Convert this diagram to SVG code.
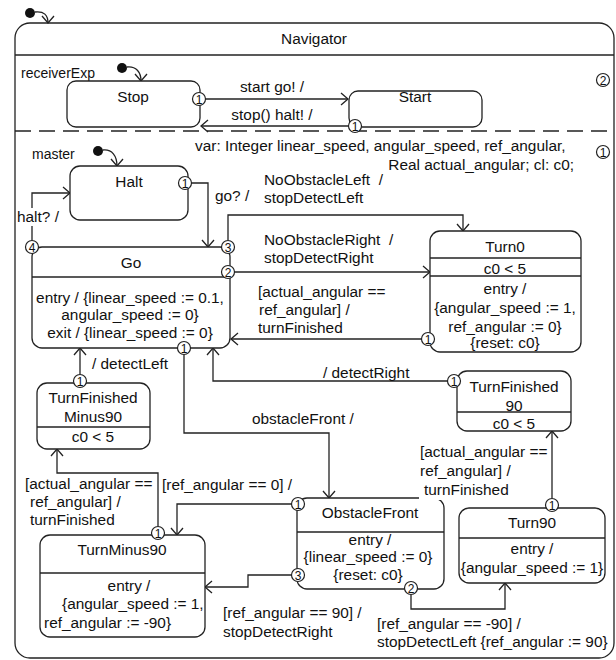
<svg xmlns="http://www.w3.org/2000/svg" width="616" height="660" viewBox="0 0 616 660">
<style>
text{font-family:"Liberation Sans",Arial,sans-serif;font-size:15.4px;fill:#111}
.m{text-anchor:middle}
.sm{font-size:14px}
.box{fill:#fff;stroke:#222;stroke-width:1.3}
.ln{fill:none;stroke:#222;stroke-width:1.3}
.arr{fill:none;stroke:#222;stroke-width:1.3;marker-end:url(#a)}
.p circle{fill:#fff;stroke:#222;stroke-width:1.2}
.p text{font-size:12px;text-anchor:middle}
.bg{fill:#fff}
</style>
<defs>
<marker id="a" markerWidth="10" markerHeight="14" refX="8" refY="7" orient="auto" markerUnits="userSpaceOnUse"><path d="M1,1 L8,7 L1,13" fill="none" stroke="#222" stroke-width="1.3"/></marker>
</defs>
<g id="navigator">
<rect class="box" x="15" y="23" width="599" height="635" rx="15"/>
<line class="ln" x1="15" y1="55" x2="614" y2="55"/>
<line class="ln" x1="15" y1="131" x2="614" y2="131" stroke-dasharray="16 8"/>
<text class="m" x="314" y="44">Navigator</text>
<text class="sm" x="21" y="78">receiverExp</text>
<text class="sm" x="32" y="159">master</text>
<text x="195" y="151">var: Integer linear_speed, angular_speed, ref_angular,</text>
<text x="574" y="170" text-anchor="end">Real actual_angular; cl: c0;</text>
<g class="p"><circle cx="603" cy="80" r="6.5"/><text x="603" y="84.5">2</text></g>
<g class="p"><circle cx="603" cy="152" r="6.5"/><text x="603" y="156.5">1</text></g>
<circle cx="30" cy="13" r="5" fill="#111"/>
<path class="arr" d="M35,12 C44,11 48,15 48,23"/>
<circle cx="122" cy="68" r="5" fill="#111"/>
<path class="arr" d="M127,67 C136,66 141,72 141,81"/>
<circle cx="98" cy="151" r="5" fill="#111"/>
<path class="arr" d="M103,150 C112,149 117,156 117,166"/>
</g>
<g id="connectors">
<path class="arr" d="M205.5,99 H348"/>
<path class="arr" d="M348.5,126 H201"/>
<path class="arr" d="M191.5,183 H208 V247"/>
<path class="arr" d="M32,240.5 V193 H70"/>
<path class="arr" d="M228,240.5 V215 H463 V231"/>
<path class="arr" d="M234.5,272 H430"/>
<path class="arr" d="M421.5,339 H231"/>
<path class="arr" d="M184,354.5 V433 H329 V498"/>
<path class="arr" d="M447.5,381 H213 V348"/>
<path class="arr" d="M80,374.5 V348"/>
<path class="arr" d="M158,526.5 V473 H57 V449"/>
<path class="arr" d="M291.5,504 H177 V535"/>
<path class="arr" d="M291.5,575 H248 V587 H205"/>
<path class="arr" d="M411,594.5 V609 H505 V583"/>
<path class="arr" d="M552,498.5 V431"/>
</g>
<g id="stop">
<rect class="box" x="67" y="81" width="133" height="46" rx="9"/>
<text class="m" x="133" y="102">Stop</text>
<g class="p"><circle cx="199" cy="99" r="6.5"/><text x="199" y="103.5">1</text></g>
</g>
<g id="start">
<rect class="box" x="349" y="91" width="133" height="36" rx="9"/>
<text class="m" x="415" y="102">Start</text>
<g class="p"><circle cx="355" cy="126" r="6.5"/><text x="355" y="130.5">1</text></g>
</g>
<g id="halt">
<rect class="box" x="70" y="166" width="118" height="54" rx="10"/>
<text class="m" x="129" y="187">Halt</text>
<g class="p"><circle cx="185" cy="183" r="6.5"/><text x="185" y="187.5">1</text></g>
</g>
<g id="go">
<rect class="box" x="32" y="247" width="198" height="101" rx="10"/>
<line class="ln" x1="32" y1="277" x2="230" y2="277"/>
<text class="m" x="131" y="268">Go</text>
<text class="m" x="130" y="303">entry / {linear_speed := 0.1,</text>
<text class="m" x="130" y="320">angular_speed := 0}</text>
<text class="m" x="130" y="338">exit / {linear_speed := 0}</text>
<g class="p"><circle cx="32" cy="247" r="6.5"/><text x="32" y="251.5">4</text></g>
<g class="p"><circle cx="228" cy="247" r="6.5"/><text x="228" y="251.5">3</text></g>
<g class="p"><circle cx="228" cy="272" r="6.5"/><text x="228" y="276.5">2</text></g>
<g class="p"><circle cx="184" cy="348" r="6.5"/><text x="184" y="352.5">1</text></g>
</g>
<g id="turn0">
<rect class="box" x="430" y="231" width="151" height="121" rx="10"/>
<line class="ln" x1="430" y1="258" x2="581" y2="258"/>
<line class="ln" x1="430" y1="276" x2="581" y2="276"/>
<text class="m" x="505" y="252">Turn0</text>
<text class="m" x="505" y="274">c0 &lt; 5</text>
<text class="m" x="505" y="294">entry /</text>
<text class="m" x="505" y="313">{angular_speed := 1,</text>
<text class="m" x="505" y="332">ref_angular := 0}</text>
<text class="m" x="505" y="348">{reset: c0}</text>
<g class="p"><circle cx="428" cy="339" r="6.5"/><text x="428" y="343.5">1</text></g>
</g>
<g id="turnFinished90">
<rect class="box" x="457" y="371" width="114" height="60" rx="10"/>
<line class="ln" x1="457" y1="412" x2="571" y2="412"/>
<text class="m" x="514" y="392">TurnFinished</text>
<text class="m" x="514" y="411">90</text>
<text class="m" x="514" y="429">c0 &lt; 5</text>
<g class="p"><circle cx="454" cy="381" r="6.5"/><text x="454" y="385.5">1</text></g>
</g>
<g id="turnFinishedMinus90">
<rect class="box" x="37" y="383" width="113" height="66" rx="10"/>
<line class="ln" x1="37" y1="427" x2="150" y2="427"/>
<text class="m" x="93" y="403">TurnFinished</text>
<text class="m" x="93" y="422">Minus90</text>
<text class="m" x="93" y="442">c0 &lt; 5</text>
<g class="p"><circle cx="80" cy="381" r="6.5"/><text x="80" y="385.5">1</text></g>
</g>
<g id="turnMinus90">
<rect class="box" x="40" y="535" width="165" height="102" rx="10"/>
<line class="ln" x1="40" y1="573" x2="205" y2="573"/>
<text class="m" x="122" y="555">TurnMinus90</text>
<text class="m" x="129" y="591">entry /</text>
<text x="62" y="609">{angular_speed := 1,</text>
<text x="44" y="628">ref_angular := -90}</text>
<g class="p"><circle cx="158" cy="533" r="6.5"/><text x="158" y="537.5">1</text></g>
</g>
<g id="obstacleFront">
<rect class="box" x="297" y="498" width="147" height="91" rx="10"/>
<line class="ln" x1="297" y1="532" x2="444" y2="532"/>
<text class="m" x="370" y="518">ObstacleFront</text>
<text class="m" x="370" y="545">entry /</text>
<text class="m" x="368" y="562">{linear_speed := 0}</text>
<text class="m" x="368" y="580">{reset: c0}</text>
<g class="p"><circle cx="298" cy="504" r="6.5"/><text x="298" y="508.5">1</text></g>
<g class="p"><circle cx="298" cy="575" r="6.5"/><text x="298" y="579.5">3</text></g>
<g class="p"><circle cx="411" cy="588" r="6.5"/><text x="411" y="592.5">2</text></g>
</g>
<g id="turn90">
<rect class="box" x="459" y="508" width="146" height="75" rx="10"/>
<line class="ln" x1="459" y1="538" x2="605" y2="538"/>
<text class="m" x="532" y="528">Turn90</text>
<text class="m" x="532" y="554">entry /</text>
<text class="m" x="532" y="573">{angular_speed := 1}</text>
<g class="p"><circle cx="552" cy="505" r="6.5"/><text x="552" y="509.5">1</text></g>
</g>
<g id="labels">
<text class="m" x="272" y="92">start go! /</text>
<text class="m" x="272" y="120">stop() halt! /</text>
<text x="215" y="201">go? /</text>
<rect class="bg" x="17" y="208" width="44" height="18"/>
<text x="17" y="222">halt? /</text>
<text x="264" y="185" style="white-space:pre">NoObstacleLeft  /</text>
<text x="264" y="203">stopDetectLeft</text>
<text x="264" y="245" style="white-space:pre">NoObstacleRight  /</text>
<text x="264" y="263">stopDetectRight</text>
<text x="258" y="297">[actual_angular ==</text>
<text x="259" y="315">ref_angular] /</text>
<text x="258" y="333">turnFinished</text>
<text x="92" y="369">/ detectLeft</text>
<text x="323" y="378">/ detectRight</text>
<text x="252" y="424">obstacleFront /</text>
<text x="25" y="489">[actual_angular ==</text>
<text x="30" y="507">ref_angular] /</text>
<text x="30" y="525">turnFinished</text>
<text x="162" y="490">[ref_angular == 0] /</text>
<text x="223" y="618">[ref_angular == 90] /</text>
<text x="223" y="637">stopDetectRight</text>
<text x="377" y="629">[ref_angular == -90] /</text>
<text x="377" y="647">stopDetectLeft {ref_angular := 90}</text>
<text x="420" y="457">[actual_angular ==</text>
<text x="420" y="476">ref_angular] /</text>
<rect class="bg" x="419" y="482" width="92" height="18"/>
<text x="424" y="495">turnFinished</text>
</g>
</svg>
